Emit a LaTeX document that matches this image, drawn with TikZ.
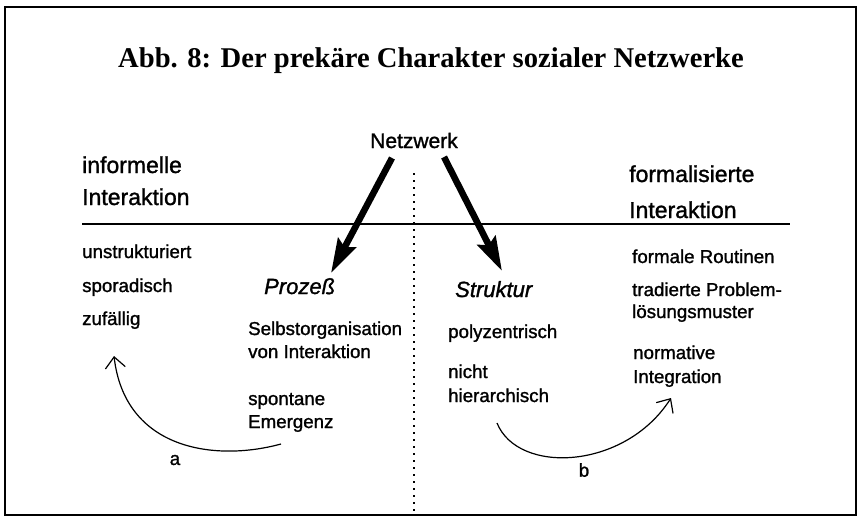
\documentclass[tikz,border=0pt]{standalone}
\usepackage{fontspec}
\setmainfont{Liberation Serif}
\setsansfont{Liberation Sans}[FakeBold=1.3]
\usetikzlibrary{arrows.meta}
\begin{document}
\begin{tikzpicture}[x=1pt,y=-1pt,
  txt/.style={anchor=base west,inner sep=0pt,font=\sffamily\fontsize{18.7}{20}\selectfont},
  head/.style={anchor=base west,inner sep=0pt,font=\sffamily\fontsize{23}{25}\selectfont},
  emph/.style={anchor=base west,inner sep=0pt,font=\sffamily\itshape\fontsize{22}{24}\selectfont},
  bigarrow/.style={line width=6.5pt,-{Stealth[length=34pt,width=20pt,inset=5pt]}},
  thinarrow/.style={line width=1.2pt,-{Straight Barb[length=11pt,width=20pt]}},
  lbl/.style={inner sep=0pt,font=\sffamily\fontsize{18.7}{20}\selectfont}]
\useasboundingbox (0,0) rectangle (858,519);
\draw[line width=2pt] (5,7) rectangle (856,515);
\node[anchor=base,inner sep=0pt,font=\bfseries\fontsize{28.6}{30}\selectfont] (title) at (431,67) {Abb. 8: Der prekäre Charakter sozialer Netzwerke};
\node[anchor=base,inner sep=0pt,font=\sffamily\fontsize{21}{23}\selectfont] (netz) at (414,148) {Netzwerk};
\node[head] (infa) at (82,173) {informelle};
\node[head] (infb) at (82,205) {Interaktion};
\node[head] (fora) at (629,182) {formalisierte};
\node[head] (forb) at (629,218) {Interaktion};
\coordinate (hl) at (82,224);
\coordinate (hr) at (790,224);
\draw[line width=1.8pt] (hl) -- (hr);
\coordinate (dt) at (414,173);
\coordinate (db) at (414,512);
\draw[line width=2pt,dash pattern=on 2pt off 5pt] (dt) -- (db);
\node[txt] (u1) at (82,258) {unstrukturiert};
\node[txt] (u2) at (82,292) {sporadisch};
\node[txt] (u3) at (82,325) {zufällig};
\node[emph] (proz) at (264,294) {Prozeß};
\node[txt] (s1) at (248,335) {Selbstorganisation};
\node[txt] (s2) at (248,358) {von Interaktion};
\node[txt] (s3) at (248,405) {spontane};
\node[txt] (s4) at (248,428) {Emergenz};
\node[emph] (strk) at (455,297) {Struktur};
\node[txt] (p1) at (448,338) {polyzentrisch};
\node[txt] (p2) at (448,378) {nicht};
\node[txt] (p3) at (448,402) {hierarchisch};
\node[txt] (r1) at (632,263) {formale Routinen};
\node[txt] (r2) at (632,296) {tradierte Problem-};
\node[txt] (r3) at (632,318) {lösungsmuster};
\node[txt] (r4) at (633,359) {normative};
\node[txt] (r5) at (633,383) {Integration};
\coordinate (la) at (392,158);
\coordinate (lb) at (331,273);
\coordinate (ra) at (444,157);
\coordinate (rb) at (502,271);
\draw[bigarrow] (la) -- (lb);
\draw[bigarrow] (ra) -- (rb);
\coordinate (as) at (281,444);
\coordinate (ae) at (114,356);
\draw[thinarrow] (as) .. controls (215,462) and (125,450) .. (ae);
\coordinate (bs) at (497,423);
\coordinate (be) at (671,398);
\draw[thinarrow] (bs) .. controls (518,475) and (625,470) .. (be);
\node[lbl] (a) at (175,460) {a};
\node[lbl] (b) at (584,470) {b};
\end{tikzpicture}
\end{document}
